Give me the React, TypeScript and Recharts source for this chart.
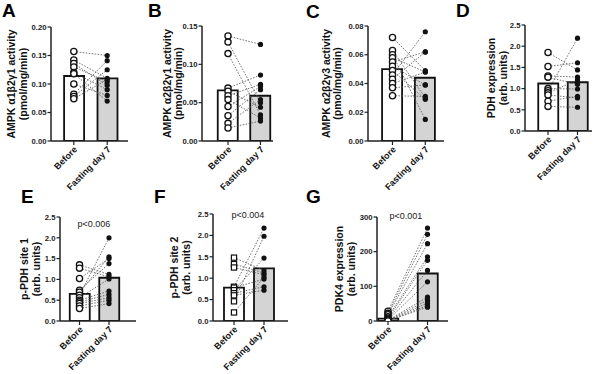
import React from 'react';
import { ComposedChart, Bar, Cell, Line, XAxis, YAxis } from 'recharts';

const FONT = '"Liberation Sans", Arial, Helvetica, sans-serif';

const categories = ['Before', 'Fasting day 7'];

// A: AMPK α1β2γ1 activity (pmol/mg/min)
const ampkA1B2G1Before = [0.157, 0.142, 0.136, 0.13, 0.12, 0.1, 0.082, 0.078, 0.074, 0.118];
const ampkA1B2G1Fasting = [0.15, 0.11, 0.098, 0.104, 0.09, 0.08, 0.141, 0.125, 0.108, 0.07];
const ampkA1B2G1Mean = [0.114, 0.11];
const ampkA1B2G1Ticks = [0, 0.05, 0.1, 0.15, 0.2];

// B: AMPK α2β2γ1 activity (pmol/mg/min)
const ampkA2B2G1Before = [0.137, 0.129, 0.114, 0.069, 0.065, 0.059, 0.054, 0.045, 0.033, 0.023, 0.017];
const ampkA2B2G1Fasting = [0.126, 0.05, 0.034, 0.086, 0.044, 0.074, 0.03, 0.071, 0.067, 0.054, 0.026];
const ampkA2B2G1Mean = [0.066, 0.059];
const ampkA2B2G1Ticks = [0, 0.05, 0.1, 0.15];

// C: AMPK α2β2γ3 activity (pmol/mg/min)
const ampkA2B2G3Before = [0.072, 0.063, 0.06, 0.058, 0.055, 0.052, 0.049, 0.046, 0.043, 0.04, 0.037, 0.0315];
const ampkA2B2G3Fasting = [0.049, 0.03, 0.015, 0.048, 0.062, 0.039, 0.029, 0.076, 0.062, 0.048, 0.039, 0.031];
const ampkA2B2G3Mean = [0.05, 0.044];
const ampkA2B2G3Ticks = [0, 0.02, 0.04, 0.06, 0.08];

// D: PDH expression (arb. units)
const pdhBefore = [1.85, 1.52, 1.3, 1.27, 1.0, 0.95, 0.9, 0.85, 0.7, 0.58];
const pdhFasting = [1.44, 1.61, 1.27, 1.1, 0.99, 2.19, 1.2, 0.78, 0.82, 0.56];
const pdhMean = [1.12, 1.15];

// E: p-PDH site 1 (arb. units)
const pPdhSite1Before = [1.35, 1.27, 1.02, 0.74, 0.69, 0.62, 0.56, 0.5, 0.46, 0.42, 0.36, 0.3];
const pPdhSite1Fasting = [1.12, 1.06, 1.5, 1.38, 1.54, 2.0, 1.01, 0.72, 0.64, 0.56, 0.5, 0.42];
const pPdhSite1Mean = [0.65, 1.04];

// F: p-PDH site 2 (arb. units)
const pPdhSite2Before = [1.48, 1.33, 1.25, 0.8, 0.78, 0.72, 0.65, 0.6, 0.46, 0.2];
const pPdhSite2Fasting = [1.18, 1.12, 1.08, 2.17, 0.98, 1.47, 0.8, 0.72, 1.98, 1.02];
const pPdhSite2Mean = [0.78, 1.23];

// G: PDK4 expression (arb. units)
const pdk4Before = [28, 22, 18, 12, 8, 5, 3, 2, 1, 0.5, 0.3, 0.2];
const pdk4Fasting = [268, 250, 223, 185, 175, 146, 113, 69, 60, 52, 45, 40];
const pdk4Mean = [7, 137];
const pdk4Ticks = [0, 100, 200, 300];

const unitTicks = [0, 0.5, 1.0, 1.5, 2.0, 2.5];

type PanelSpec = {
  letter: string;
  title: string[];
  before: number[];
  fasting: number[];
  mean: number[];
  ticks: number[];
  decimals: number;
  pValue?: string;
  marker: 'circle' | 'square';
  // layout (page pixels)
  left: number;
  top: number;
  width: number;
  height: number;
  axisX: number;
  xEnd: number;
  yTop: number;
  yBottom: number;
  c0: number;
  c1: number;
  titleX: [number, number];
  letterPos: [number, number];
  pPos?: [number, number];
};

const panels: PanelSpec[] = [
  {
    letter: 'A', title: ['AMPK α1β2γ1 activity', '(pmol/mg/min)'],
    before: ampkA1B2G1Before, fasting: ampkA1B2G1Fasting, mean: ampkA1B2G1Mean,
    ticks: ampkA1B2G1Ticks, decimals: 2, marker: 'circle',
    left: 0, top: 0, width: 145, height: 200, axisX: 51, xEnd: 128, yTop: 27, yBottom: 141,
    c0: 73.8, c1: 107.2, titleX: [11, 22.5], letterPos: [2, 17],
  },
  {
    letter: 'B', title: ['AMPK α2β2γ1 activity', '(pmol/mg/min)'],
    before: ampkA2B2G1Before, fasting: ampkA2B2G1Fasting, mean: ampkA2B2G1Mean,
    ticks: ampkA2B2G1Ticks, decimals: 2, marker: 'circle',
    left: 145, top: 0, width: 145, height: 200, axisX: 202, xEnd: 273, yTop: 26, yBottom: 141,
    c0: 228, c1: 260.5, titleX: [166.5, 177.5], letterPos: [148, 17],
  },
  {
    letter: 'C', title: ['AMPK α2β2γ3 activity', '(pmol/mg/min)'],
    before: ampkA2B2G3Before, fasting: ampkA2B2G3Fasting, mean: ampkA2B2G3Mean,
    ticks: ampkA2B2G3Ticks, decimals: 2, marker: 'circle',
    left: 290, top: 0, width: 160, height: 200, axisX: 368, xEnd: 444, yTop: 26, yBottom: 141,
    c0: 392.5, c1: 425.3, titleX: [325.5, 337], letterPos: [306, 18],
  },
  {
    letter: 'D', title: ['PDH expression', '(arb. units)'],
    before: pdhBefore, fasting: pdhFasting, mean: pdhMean,
    ticks: unitTicks, decimals: 1, marker: 'circle',
    left: 450, top: 0, width: 150, height: 200, axisX: 525, xEnd: 592, yTop: 25, yBottom: 131,
    c0: 548, c1: 577.5, titleX: [491, 502.5], letterPos: [456, 17],
  },
  {
    letter: 'E', title: ['p-PDH site 1', '(arb. units)'],
    before: pPdhSite1Before, fasting: pPdhSite1Fasting, mean: pPdhSite1Mean,
    ticks: unitTicks, decimals: 1, marker: 'circle', pValue: 'p<0.006',
    left: 0, top: 190, width: 145, height: 184, axisX: 60, xEnd: 136, yTop: 217, yBottom: 321,
    c0: 79.5, c1: 109, titleX: [24, 36], letterPos: [21, 203], pPos: [94, 227],
  },
  {
    letter: 'F', title: ['p-PDH site 2', '(arb. units)'],
    before: pPdhSite2Before, fasting: pPdhSite2Fasting, mean: pPdhSite2Mean,
    ticks: unitTicks, decimals: 1, marker: 'square', pValue: 'p<0.004',
    left: 145, top: 190, width: 145, height: 184, axisX: 213, xEnd: 288, yTop: 214, yBottom: 321,
    c0: 234, c1: 264, titleX: [174, 185.5], letterPos: [154, 203], pPos: [248, 218],
  },
  {
    letter: 'G', title: ['PDK4 expression', '(arb. units)'],
    before: pdk4Before, fasting: pdk4Fasting, mean: pdk4Mean,
    ticks: pdk4Ticks, decimals: 0, marker: 'circle', pValue: 'p<0.001',
    left: 290, top: 190, width: 160, height: 184, axisX: 377, xEnd: 448, yTop: 217, yBottom: 321,
    c0: 388, c1: 427.5, titleX: [339, 351], letterPos: [306, 203], pPos: [406, 219],
  },
];

const Y_AXIS_W = 32;
const X_AXIS_H = 45;

const XTick = (props: any) => {
  const { x, y, payload } = props;
  const label = categories[Math.round(payload.value)] ?? '';
  const ax = x + 4;
  const ay = y + 3;
  return (
    <text
      x={ax}
      y={ay}
      transform={`rotate(-45, ${ax}, ${ay})`}
      textAnchor="end"
      fontSize={9}
      fontWeight="bold"
      fontFamily={FONT}
      fill="#111"
    >
      {label}
    </text>
  );
};

const makeDot = (marker: 'circle' | 'square') => (props: any) => {
  const { cx, cy, index, dataKey } = props;
  const k = `${dataKey}-${index}`;
  if (cx == null || cy == null) return <g key={k} />;
  if (index === 0) {
    if (marker === 'square') {
      return <rect key={k} x={cx - 2.6} y={cy - 2.6} width={5.2} height={5.2} fill="#fff" stroke="#111" strokeWidth={1.2} />;
    }
    return <circle key={k} cx={cx} cy={cy} r={3.1} fill="#fff" stroke="#111" strokeWidth={1.3} />;
  }
  return <circle key={k} cx={cx} cy={cy} r={2.6} fill="#111" stroke="none" />;
};

const Panel = ({ p }: { p: PanelSpec }) => {
  const rows = [0, 1].map((i) => {
    const row: Record<string, number> = { x: i, mean: p.mean[i] };
    const src = i === 0 ? p.before : p.fasting;
    src.forEach((v, j) => {
      row[`s${j}`] = v;
    });
    return row;
  });
  const unit = p.c1 - p.c0;
  const lo = -(p.c0 - p.axisX) / unit;
  const hi = 1 + (p.xEnd - p.c1) / unit;
  const margin = {
    top: p.yTop - p.top,
    left: p.axisX - p.left - Y_AXIS_W,
    right: p.left + p.width - p.xEnd,
    bottom: p.top + p.height - p.yBottom - X_AXIS_H,
  };
  const yMax = p.ticks[p.ticks.length - 1];
  const dot = makeDot(p.marker);

  const titleLabel = (props: any) => {
    const vb = props.viewBox || {};
    const cy = (vb.y ?? 0) + (vb.height ?? 0) / 2;
    return (
      <g>
        {p.title.map((t, i) => {
          const tx = p.titleX[i] - p.left;
          return (
            <text
              key={i}
              x={tx}
              y={cy}
              transform={`rotate(-90, ${tx}, ${cy})`}
              textAnchor="middle"
              dominantBaseline="central"
              fontSize={10.5}
              fontWeight="bold"
              fontFamily={FONT}
              fill="#111"
            >
              {t}
            </text>
          );
        })}
      </g>
    );
  };

  return (
    <div style={{ position: 'absolute', left: p.left, top: p.top, width: p.width, height: p.height }}>
      <ComposedChart width={p.width} height={p.height} data={rows} margin={margin}>
        <XAxis
          type="number"
          dataKey="x"
          domain={[lo, hi]}
          ticks={[0, 1]}
          allowDataOverflow
          interval={0}
          height={X_AXIS_H}
          tick={<XTick />}
          tickSize={4}
          axisLine={{ stroke: '#222', strokeWidth: 1.5 }}
          tickLine={{ stroke: '#222', strokeWidth: 1.2 }}
        />
        <YAxis
          type="number"
          domain={[0, yMax]}
          ticks={p.ticks}
          allowDataOverflow
          interval={0}
          width={Y_AXIS_W}
          tickSize={3.5}
          tickMargin={1}
          tickFormatter={(v: number) => v.toFixed(p.decimals)}
          tick={{ fontSize: 7.7, fontWeight: 'bold', fontFamily: FONT, fill: '#222' }}
          axisLine={{ stroke: '#222', strokeWidth: 1.5 }}
          tickLine={{ stroke: '#222', strokeWidth: 1.2 }}
          label={titleLabel}
        />
        <Bar dataKey="mean" barSize={20} stroke="#111" strokeWidth={1.8} isAnimationActive={false}>
          <Cell fill="#ffffff" />
          <Cell fill="#d4d4d4" />
        </Bar>
        {p.before.map((_, j) => (
          <Line
            key={j}
            type="linear"
            dataKey={`s${j}`}
            stroke="#555"
            strokeWidth={0.8}
            strokeDasharray="1.6 1.4"
            dot={dot}
            activeDot={false}
            isAnimationActive={false}
          />
        ))}
      </ComposedChart>
    </div>
  );
};

export default function App() {
  return (
    <div
      style={{
        position: 'absolute',
        left: 0,
        top: 0,
        width: 600,
        height: 374,
        background: '#fff',
        overflow: 'hidden',
        fontFamily: FONT,
      }}
    >
      {panels.map((p) => (
        <Panel key={p.letter} p={p} />
      ))}
      <svg width={600} height={374} style={{ position: 'absolute', left: 0, top: 0, pointerEvents: 'none' }}>
        {panels.map((p) => (
          <text
            key={`L${p.letter}`}
            x={p.letterPos[0]}
            y={p.letterPos[1]}
            fontSize={19}
            fontWeight="bold"
            fontFamily={FONT}
            fill="#000"
          >
            {p.letter}
          </text>
        ))}
        {panels.map((p) =>
          p.pValue && p.pPos ? (
            <text
              key={`P${p.letter}`}
              x={p.pPos[0]}
              y={p.pPos[1]}
              textAnchor="middle"
              fontSize={9}
              fontFamily={FONT}
              fill="#222"
            >
              {p.pValue}
            </text>
          ) : null
        )}
      </svg>
    </div>
  );
}
